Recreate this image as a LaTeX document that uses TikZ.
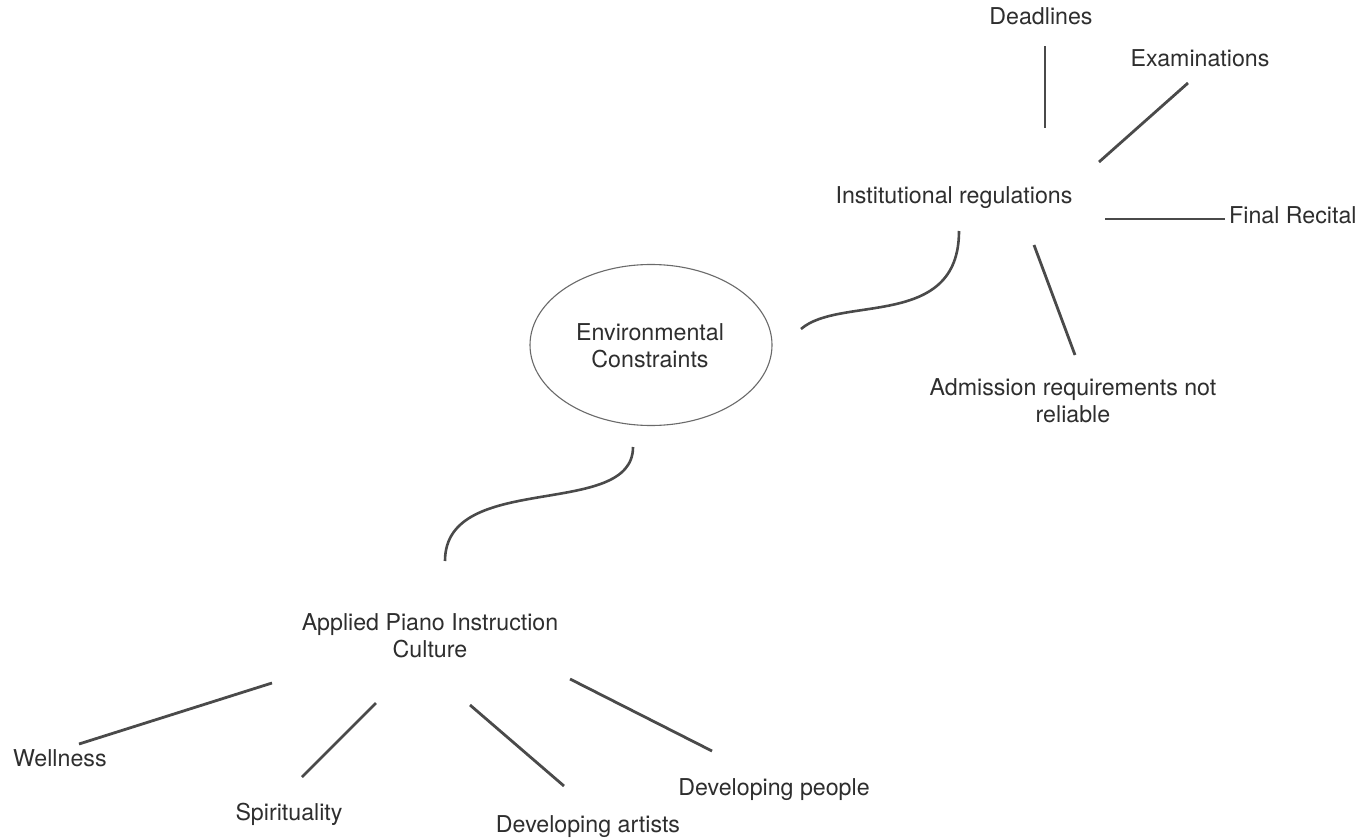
\documentclass[tikz,border=0pt]{standalone}
\usepackage{fontspec}
\setmainfont{TeX Gyre Heros}
\usetikzlibrary{shapes.geometric}
\definecolor{txt}{HTML}{2E2E2E}
\definecolor{ln}{HTML}{4A4A4A}
\definecolor{ell}{HTML}{6A6A6A}
\tikzset{
  lbl/.style={inner sep=0pt, text=txt, align=center, font=\fontsize{23.2}{26.8}\selectfont},
  conn/.style={draw=ln, line width=2.8pt},
  wave/.style={draw=ln, line width=2.6pt},
  bubble/.style={ellipse, draw=ell, line width=1.1pt, minimum width=242pt, minimum height=161pt, inner sep=0pt}
}
\begin{document}
\begin{tikzpicture}[x=1pt,y=-1pt]
\useasboundingbox[fill=white] (0,0) rectangle (1360,840);

% nodes (multi-line nodes: base = baseline of last line)
\node[bubble] (env) at (651,345) {};
\node[lbl, anchor=base] (envt) at (650,367) {Environmental\\Constraints};
\node[lbl, anchor=base] (inst) at (954,203) {Institutional regulations};
\node[lbl, anchor=base] (dead) at (1041,25) {Deadlines};
\node[lbl, anchor=base] (exam) at (1200,67) {Examinations};
\node[lbl, anchor=base west] (final) at (1229,223) {Final Recital};
\node[lbl, anchor=base] (adm) at (1073,422) {Admission requirements not\\reliable};
\node[lbl, anchor=base] (app) at (430,657) {Applied Piano Instruction\\Culture};
\node[lbl, anchor=base west] (well) at (13,766) {Wellness};
\node[lbl, anchor=base] (spir) at (289,820) {Spirituality};
\node[lbl, anchor=base] (dart) at (588,832) {Developing artists};
\node[lbl, anchor=base] (dpeo) at (774,795) {Developing people};

% connector ends
\coordinate (i-d) at (1045,128);  \coordinate (d-i) at (1045,46);
\coordinate (i-e) at (1099,162);  \coordinate (e-i) at (1188,83);
\coordinate (i-f) at (1105,219);  \coordinate (f-i) at (1225,219);
\coordinate (i-a) at (1034,245);  \coordinate (a-i) at (1075,355);
\coordinate (i-v) at (959,231);   \coordinate (v-i) at (801,329);
\coordinate (v-p) at (633,447);   \coordinate (p-v) at (445,561);
\coordinate (p-w) at (272,683);   \coordinate (w-p) at (79,744);
\coordinate (p-s) at (376,703);   \coordinate (s-p) at (302,777);
\coordinate (p-ar) at (470,705);  \coordinate (ar-p) at (564,786);
\coordinate (p-pe) at (570,679);  \coordinate (pe-p) at (712,751);

% connectors
\draw[conn] (i-d) -- (d-i);
\draw[conn] (i-e) -- (e-i);
\draw[conn] (i-f) -- (f-i);
\draw[conn] (i-a) -- (a-i);
\draw[wave] (i-v) .. controls (959,330) and (840,295) .. (v-i);
\draw[wave] (v-p) .. controls (633,520) and (445,470) .. (p-v);
\draw[conn] (p-w) -- (w-p);
\draw[conn] (p-s) -- (s-p);
\draw[conn] (p-ar) -- (ar-p);
\draw[conn] (p-pe) -- (pe-p);
\end{tikzpicture}
\end{document}
